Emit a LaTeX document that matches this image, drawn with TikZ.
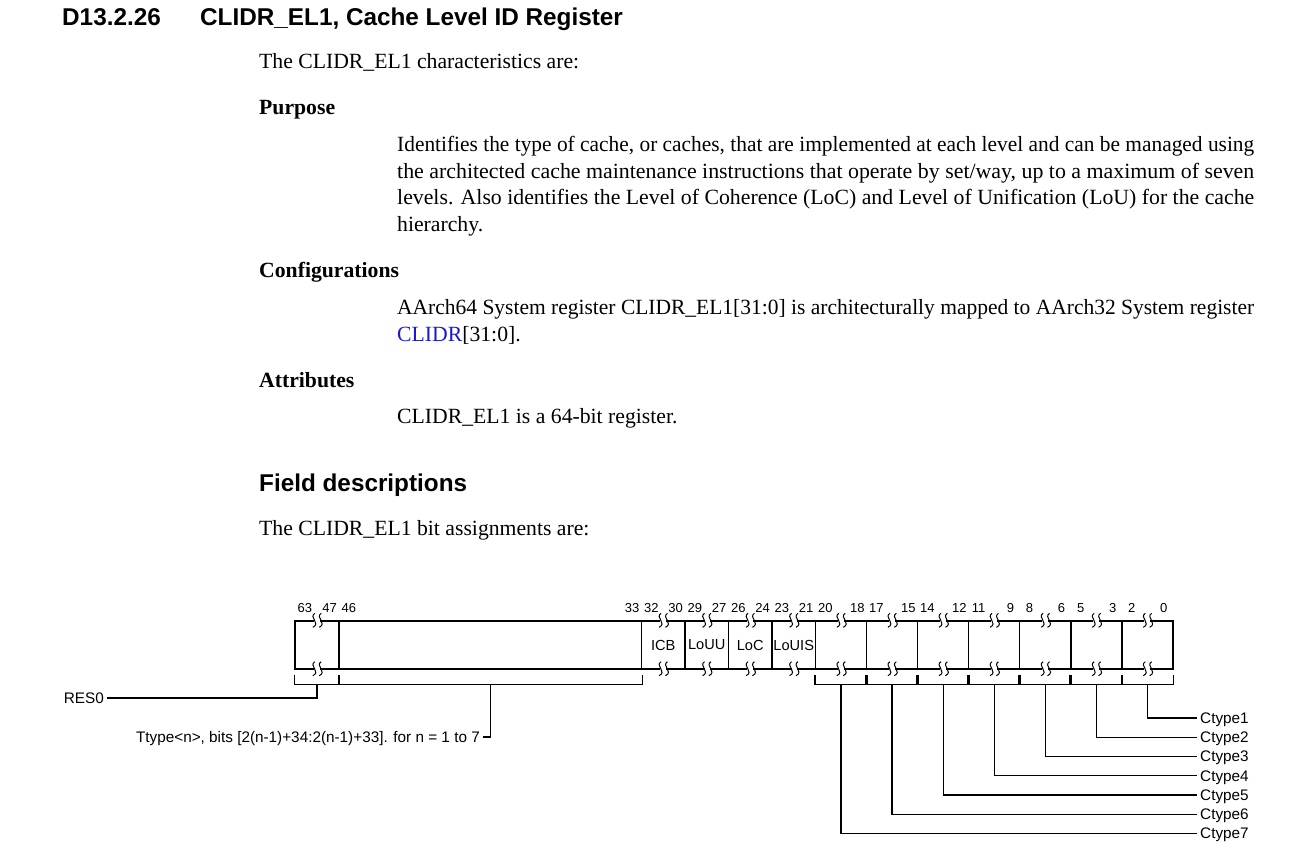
\documentclass[tikz,border=0pt]{standalone}
\usepackage{fontspec}
\setmainfont{Liberation Serif}
\setsansfont{Liberation Sans}
\usepackage{graphicx}
\definecolor{linkblue}{RGB}{25,25,210}
\begin{document}
\begin{tikzpicture}[x=1pt,y=-1pt,
  field/.style={draw, line width=1.4pt, inner sep=0pt, minimum height=48pt, font=\fontsize{14.6}{16}\sffamily},
  bitnum/.style={inner sep=0pt, anchor=base, font=\fontsize{13}{15}\sffamily},
  lbl/.style={inner ysep=0pt, inner xsep=3pt, text height=10.9pt, text depth=0pt, font=\fontsize{15.3}{17}\sffamily},
  brk/.style={line width=1.4pt},
  conn/.style={line width=1.3pt},
  body/.style={inner sep=0pt, anchor=base west, font=\fontsize{21.7}{26}\selectfont},
  head/.style={inner sep=0pt, anchor=base west, font=\fontsize{21.7}{26}\selectfont\bfseries},
  sect/.style={inner sep=0pt, anchor=base west, font=\fontsize{24.3}{28}\selectfont\sffamily\bfseries},
  brkmark/.pic={
    \fill[white] (-3,-2) rectangle (3,2);
    \draw[line width=1pt] (-2.2,-7) .. controls (-8.7,-3) and (4.3,3) .. (-4.2,7);
    \draw[line width=1pt] (4.2,-7) .. controls (-2.3,-3) and (10.7,3) .. (2.2,7);
  }]
\useasboundingbox (0,0) rectangle (1307,865);

% ---------- text ----------
\node[sect] (t1) at (62,25) {D13.2.26};
\node[sect] (t2) at (200,25) {CLIDR\_EL1, Cache Level ID Register};
\node[body] (p0) at (259,68) {The CLIDR\_EL1 characteristics are:};
\node[head] (h1) at (259,114) {Purpose};
\node[body] (p1) at (397,151.5) {\resizebox{857pt}{\height}{Identifies the type of cache, or caches, that are implemented at each level and can be managed using}};
\node[body] (p2) at (397,178) {\resizebox{857pt}{\height}{the architected cache maintenance instructions that operate by set/way, up to a maximum of seven}};
\node[body] (p3) at (397,204.5) {\resizebox{857pt}{\height}{levels. Also identifies the Level of Coherence (LoC) and Level of Unification (LoU) for the cache}};
\node[body] (p4) at (397,231.5) {hierarchy.};
\node[head] (h2) at (259,277) {Configurations};
\node[body] (c1) at (397,314.3) {\resizebox{857pt}{\height}{AArch64 System register CLIDR\_EL1[31:0] is architecturally mapped to AArch32 System register}};
\node[body] (c2) at (397,341) {\textcolor{linkblue}{CLIDR}[31:0].};
\node[head] (h3) at (259,387.3) {Attributes};
\node[body] (a1) at (397,423.3) {CLIDR\_EL1 is a 64-bit register.};
\node[sect] (fd) at (259,491.5) {Field descriptions};
\node[body] (fb) at (259,535.5) {The CLIDR\_EL1 bit assignments are:};

% ---------- register fields ----------
\node[field, minimum width=44pt]    (f0) at (317,645) {};
\node[field, minimum width=302.5pt] (f1) at (490.25,645) {};
\node[field, minimum width=43.5pt]  (f2) at (663.25,645) {ICB};
\node[field, minimum width=43.5pt]  (f3) at (706.75,645) {LoUU};
\node[field, minimum width=43.5pt]  (f4) at (750.25,645) {LoC};
\node[field, minimum width=43.5pt]  (f5) at (793.75,645) {LoUIS};
\foreach \i in {6,...,12} {
  \node[field, minimum width=51.07pt] (f\i) at ({815.5+51.07*(\i-6)+25.535},645) {};
}

% bit numbers
\foreach \f/\hi/\lo in {0/63/47,1/46/33,2/32/30,3/29/27,4/26/24,5/23/21,6/20/18,7/17/15,8/14/12,9/11/9,10/8/6,11/5/3,12/2/0} {
  \node[bitnum] (hi\f) at ([shift={(10.5,-8)}]f\f.north west) {\hi};
  \node[bitnum] (lo\f) at ([shift={(-10,-8)}]f\f.north east) {\lo};
}

% break marks
\foreach \f in {0,2,3,4,5,6,7,8,9,10,11,12} {
  \pic at (f\f.north) {brkmark};
  \pic at ([yshift=1pt]f\f.south) {brkmark};
}

% brackets
\foreach \f in {0,1,6,7,8,9,10,11,12} {
  \draw[brk] ([shift={(0,5)}]f\f.south west) -- ++(0,10) -| ([shift={(0,5)}]f\f.south east);
  \coordinate (b\f) at ([shift={(0,15)}]f\f.south);
}

% labels
\node[lbl, anchor=east] (res0) at (107,698) {RES0};
\node[lbl, anchor=east] (ttype) at (483,737) {Ttype<n>, bits [2(n-1)+34:2(n-1)+33]. for n = 1 to 7};
\draw[conn] (b0) |- (res0.east);
\draw[conn] (b1) |- (ttype.east);

\foreach \k in {1,...,7} {
  \pgfmathtruncatemacro{\fidx}{13-\k}
  \node[lbl, anchor=west] (ct\k) at (1197,{718+19.25*(\k-1)}) {Ctype\k};
  \draw[conn] (b\fidx) |- (ct\k.west);
}
\end{tikzpicture}
\end{document}
